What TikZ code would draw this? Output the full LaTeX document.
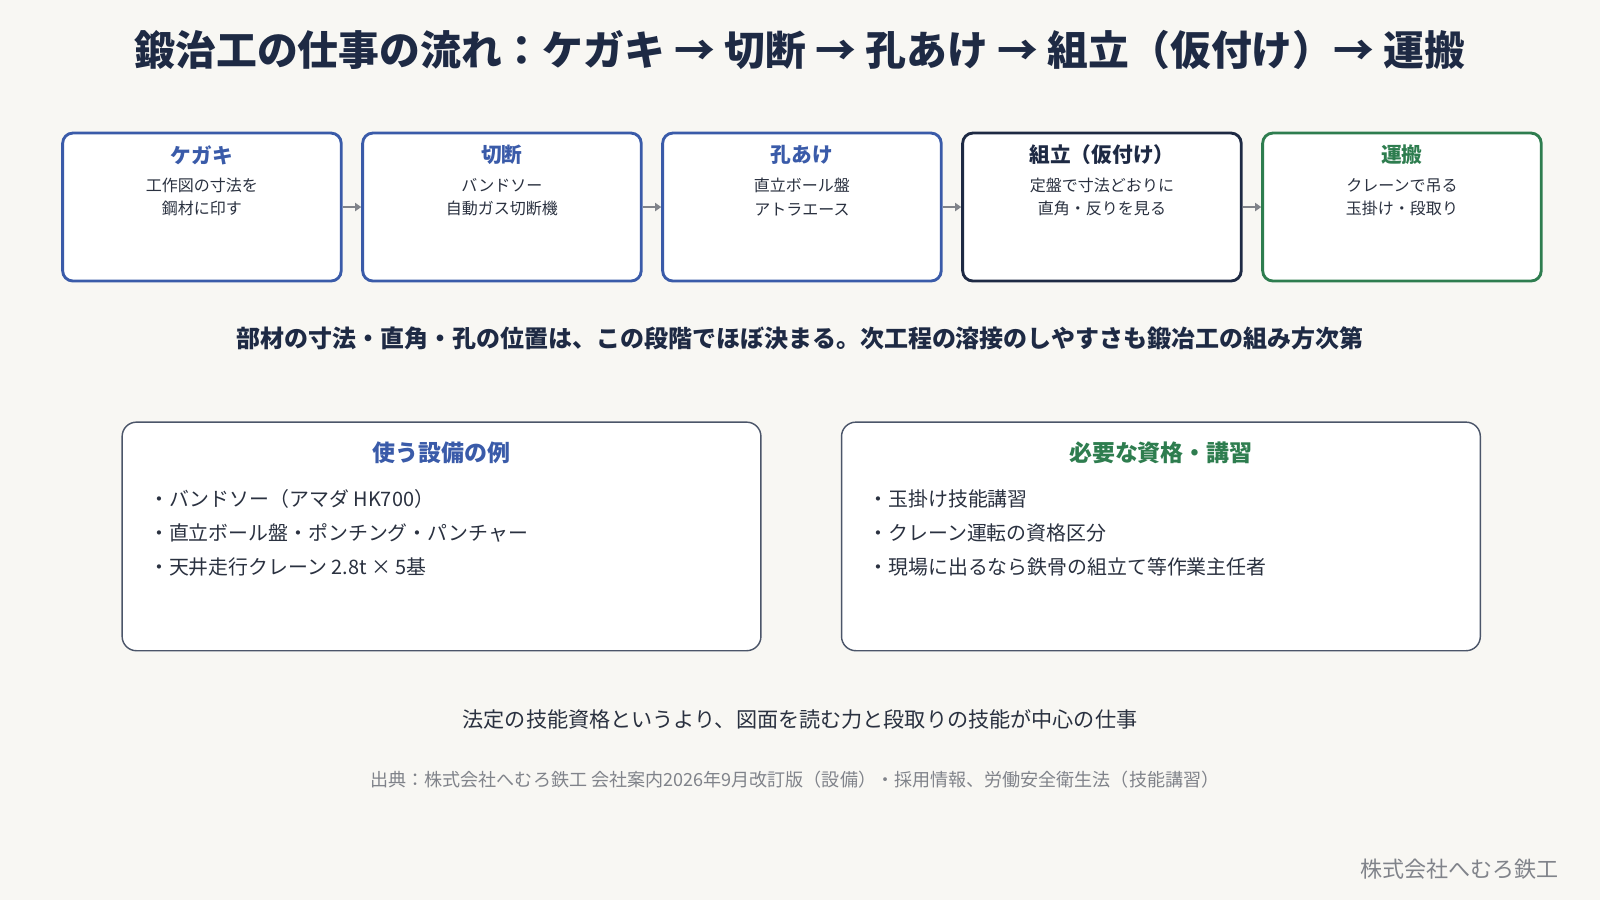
\documentclass[tikz,border=0pt]{standalone}
\usepackage{fontspec}
\setmainfont{Noto Sans CJK JP}
\usetikzlibrary{arrows.meta}
\definecolor{bg}{HTML}{F8F7F3}
\definecolor{bl}{HTML}{3A5BA9}
\definecolor{dk}{HTML}{1E2A44}
\definecolor{gr}{HTML}{2E7D4F}
\definecolor{tx}{HTML}{2A3140}
\definecolor{gy}{HTML}{80838A}
\tikzset{
 step/.style={draw=#1,line width=2.8pt,rounded corners=10pt,fill=white,minimum width=273pt,minimum height=145pt,anchor=north west},
 sttl/.style={font=\fontsize{20.3}{24}\selectfont\bfseries,text=#1},
 sbody/.style={font=\fontsize{15.7}{23}\selectfont,text=tx,align=center},
 big/.style={draw=dk!80,line width=1.4pt,rounded corners=14pt,fill=white,minimum width=626pt,minimum height=224pt,anchor=north west},
 item/.style={font=\fontsize{19.5}{24}\selectfont,text=tx,anchor=west,inner sep=0pt},
 arr/.style={-{Triangle[length=6pt,width=8pt]},draw=gy,line width=2.5pt}
}
\begin{document}
\begin{tikzpicture}[x=1pt,y=-1pt]
\fill[bg] (0,0) rectangle (1568,882);
\useasboundingbox (0,0) rectangle (1568,882);
\node[font=\fontsize{40}{44}\selectfont\bfseries,text=dk] (title) at (784,49) {鍛治工の仕事の流れ：ケガキ → 切断 → 孔あけ → 組立（仮付け）→ 運搬};
\node[step=bl] (s1) at (60,129) {};
\node[step=bl] (s2) at (354,129) {};
\node[step=bl] (s3) at (648,129) {};
\node[step=dk] (s4) at (942,129) {};
\node[step=gr] (s5) at (1236,129) {};
\foreach \n/\t/\c/\a/\b in {s1/ケガキ/bl/工作図の寸法を/鋼材に印す,s2/切断/bl/バンドソー/自動ガス切断機,s3/孔あけ/bl/直立ボール盤/アトラエース,s4/組立（仮付け）/dk/定盤で寸法どおりに/直角・反りを見る,s5/運搬/gr/クレーンで吊る/玉掛け・段取り}{
 \node[sttl=\c] (\n t) at ([yshift=-23pt]\n.north) {\t};
 \node[sbody] (\n b) at ([yshift=-64pt]\n.north) {\a\\\b};
}
\draw[arr] (s1.east) -- (s2.west);
\draw[arr] (s2.east) -- (s3.west);
\draw[arr] (s3.east) -- (s4.west);
\draw[arr] (s4.east) -- (s5.west);
\node[font=\fontsize{23.5}{26}\selectfont\bfseries,text=dk] (mid) at (784,332) {部材の寸法・直角・孔の位置は、この段階でほぼ決まる。次工程の溶接のしやすさも鍛冶工の組み方次第};
\node[big] (b1) at (119,413) {};
\node[big] (b2) at (824,413) {};
\node[font=\fontsize{22.5}{26}\selectfont\bfseries,text=bl] (b1t) at ([yshift=-31pt]b1.north) {使う設備の例};
\node[font=\fontsize{22.5}{26}\selectfont\bfseries,text=gr] (b2t) at ([yshift=-31pt]b2.north) {必要な資格・講習};
\node[item] (i1) at (146,489) {・バンドソー（アマダ HK700）};
\node[item] (i2) at (146,522) {・直立ボール盤・ポンチング・パンチャー};
\node[item] (i3) at (146,556) {・天井走行クレーン 2.8t × 5基};
\node[item] (j1) at (851,489) {・玉掛け技能講習};
\node[item] (j2) at (851,522) {・クレーン運転の資格区分};
\node[item] (j3) at (851,556) {・現場に出るなら鉄骨の組立て等作業主任者};
\node[font=\fontsize{20.7}{24}\selectfont,text=tx] (foot) at (784,705) {法定の技能資格というより、図面を読む力と段取りの技能が中心の仕事};
\node[font=\fontsize{17.7}{20}\selectfont,text=gy] (src) at (779,764) {出典：株式会社へむろ鉄工 会社案内2026年9月改訂版（設備）・採用情報、労働安全衛生法（技能講習）};
\node[font=\fontsize{21.6}{24}\selectfont,text=gy,anchor=east,inner sep=0pt] (brand) at (1528,852) {株式会社へむろ鉄工};
\end{tikzpicture}
\end{document}
